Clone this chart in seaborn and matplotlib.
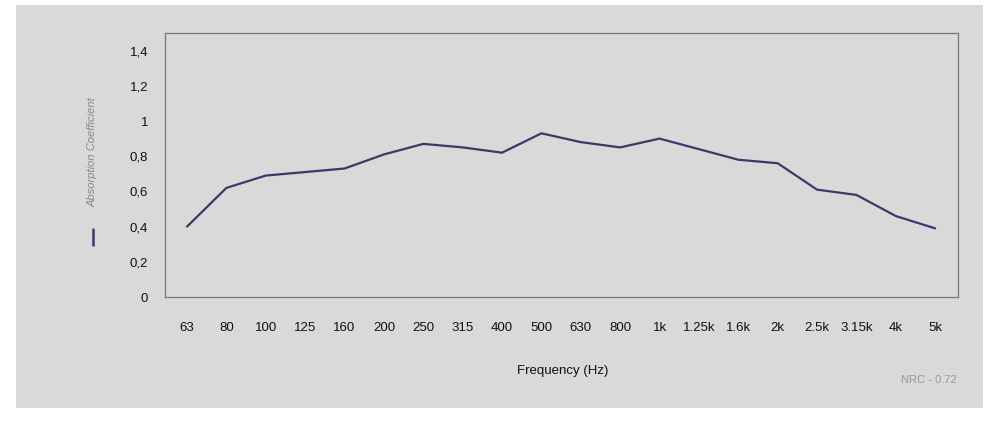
import pandas as pd
import matplotlib.pyplot as plt
import seaborn as sns
from matplotlib.patches import Rectangle
from matplotlib.lines import Line2D

frequencies = ["63", "80", "100", "125", "160", "200", "250", "315", "400", "500",
               "630", "800", "1k", "1.25k", "1.6k", "2k", "2.5k", "3.15k", "4k", "5k"]
absorption = [0.40, 0.62, 0.69, 0.71, 0.73, 0.81, 0.87, 0.85, 0.82, 0.93,
              0.88, 0.85, 0.90, 0.84, 0.78, 0.76, 0.61, 0.58, 0.46, 0.39]
y_ticks = [0, 0.2, 0.4, 0.6, 0.8, 1.0, 1.2, 1.4]
y_tick_labels = ["0", "0,2", "0,4", "0,6", "0,8", "1", "1,2", "1,4"]
nrc_text = "NRC - 0.72"

sns.set_style("white")
plt.rcParams["font.family"] = ["Liberation Sans", "DejaVu Sans"]

panel = "#d9d9d9"
line_color = "#3d3868"
W, H = 999, 429

df = pd.DataFrame({"freq": frequencies, "alpha": absorption})

fig = plt.figure(figsize=(W / 100, H / 100), dpi=100, facecolor="white")
fig.patches.append(Rectangle((16 / W, 1 - 408 / H), 967 / W, 403 / H,
                             transform=fig.transFigure, facecolor=panel,
                             edgecolor="none", zorder=-10))

ax = fig.add_axes([165 / W, 1 - 297 / H, 793 / W, 264 / H])
ax.set_facecolor(panel)
sns.lineplot(data=df, x="freq", y="alpha", ax=ax, color=line_color,
             linewidth=1.6, sort=False)

ax.set_ylim(0, 1.5)
ax.set_xlim(-0.56, 19.58)
ax.set_yticks(y_ticks)
ax.set_yticklabels(y_tick_labels)
ax.tick_params(axis="both", length=0, labelsize=9.5, colors="#111111")
ax.tick_params(axis="y", pad=12)
ax.tick_params(axis="x", pad=18)
ax.set_xlabel("")
ax.set_ylabel("")
for s in ax.spines.values():
    s.set_color("#777777")
    s.set_linewidth(0.9)

fig.text(563 / W, 1 - 371 / H, "Frequency (Hz)", ha="center", va="center",
         fontsize=9.5, color="#111111")
fig.text(957 / W, 1 - 380 / H, nrc_text, ha="right", va="center",
         fontsize=8, color="#999999")

# rotated legend at left
fig.text(93 / W, 1 - 152 / H, "Absorption Coefficient", rotation=90,
         ha="center", va="center", fontsize=8, color="#888888", style="italic")
fig.lines.append(Line2D([93 / W, 93 / W], [1 - 245 / H, 1 - 229 / H],
                        transform=fig.transFigure, color=line_color, linewidth=1.8))

fig.savefig("out.png", dpi=100, facecolor="white")
